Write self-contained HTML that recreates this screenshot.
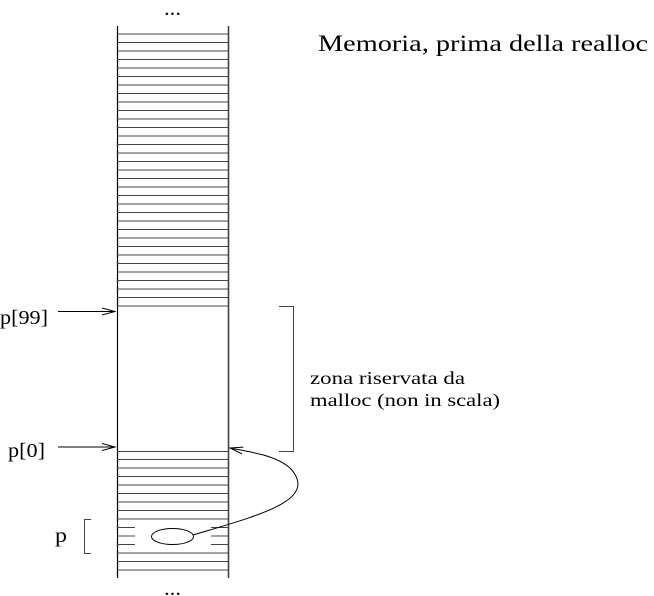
<!DOCTYPE html>
<html><head><meta charset="utf-8"><style>
html,body{margin:0;padding:0;background:#fff;}
svg{display:block;}
text{font-family:"Liberation Serif","Times New Roman",Times,serif;fill:#000;}
</style></head><body>
<svg width="654" height="596" viewBox="0 0 654 596" xmlns="http://www.w3.org/2000/svg">
<defs>
<marker id="ah" markerWidth="14" markerHeight="10" refX="13" refY="5" orient="auto" markerUnits="userSpaceOnUse">
<path d="M0,1.5 L13,5 L0,8.5" fill="none" stroke="#000" stroke-width="1"/>
</marker>
</defs>
<text x="164" y="15" font-size="20" textLength="17" lengthAdjust="spacingAndGlyphs">...</text>
<text x="164" y="595" font-size="20" textLength="17" lengthAdjust="spacingAndGlyphs">...</text>
<line x1="117.5" y1="26" x2="117.5" y2="578" stroke="#000" stroke-width="1.2"/>
<line x1="228.5" y1="26" x2="228.5" y2="578" stroke="#444" stroke-width="1.6"/>
<g stroke="#444" stroke-width="1">
<line x1="117" y1="34" x2="228" y2="34"/><line x1="117" y1="42.5" x2="228" y2="42.5"/><line x1="117" y1="51" x2="228" y2="51"/><line x1="117" y1="59.5" x2="228" y2="59.5"/><line x1="117" y1="68" x2="228" y2="68"/><line x1="117" y1="76.5" x2="228" y2="76.5"/><line x1="117" y1="85" x2="228" y2="85"/><line x1="117" y1="93.5" x2="228" y2="93.5"/><line x1="117" y1="102" x2="228" y2="102"/><line x1="117" y1="110.5" x2="228" y2="110.5"/><line x1="117" y1="119" x2="228" y2="119"/><line x1="117" y1="127.5" x2="228" y2="127.5"/><line x1="117" y1="136" x2="228" y2="136"/><line x1="117" y1="144.5" x2="228" y2="144.5"/><line x1="117" y1="153" x2="228" y2="153"/><line x1="117" y1="161.5" x2="228" y2="161.5"/><line x1="117" y1="170" x2="228" y2="170"/><line x1="117" y1="178.5" x2="228" y2="178.5"/><line x1="117" y1="187" x2="228" y2="187"/><line x1="117" y1="195.5" x2="228" y2="195.5"/><line x1="117" y1="204" x2="228" y2="204"/><line x1="117" y1="212.5" x2="228" y2="212.5"/><line x1="117" y1="221" x2="228" y2="221"/><line x1="117" y1="229.5" x2="228" y2="229.5"/><line x1="117" y1="238" x2="228" y2="238"/><line x1="117" y1="246.5" x2="228" y2="246.5"/><line x1="117" y1="255" x2="228" y2="255"/><line x1="117" y1="263.5" x2="228" y2="263.5"/><line x1="117" y1="272" x2="228" y2="272"/><line x1="117" y1="280.5" x2="228" y2="280.5"/><line x1="117" y1="289" x2="228" y2="289"/><line x1="117" y1="297.5" x2="228" y2="297.5"/><line x1="117" y1="306" x2="228" y2="306"/>
<line x1="117" y1="451.5" x2="228" y2="451.5"/><line x1="117" y1="459.5" x2="228" y2="459.5"/><line x1="117" y1="468" x2="228" y2="468"/><line x1="117" y1="476.5" x2="228" y2="476.5"/><line x1="117" y1="485" x2="228" y2="485"/><line x1="117" y1="493.5" x2="228" y2="493.5"/><line x1="117" y1="502" x2="228" y2="502"/><line x1="117" y1="510.5" x2="228" y2="510.5"/><line x1="117" y1="519" x2="228" y2="519"/>
<line x1="117" y1="527.5" x2="135" y2="527.5"/><line x1="211" y1="527.5" x2="228" y2="527.5"/>
<line x1="117" y1="536" x2="135" y2="536"/><line x1="211" y1="536" x2="228" y2="536"/>
<line x1="117" y1="544.5" x2="135" y2="544.5"/><line x1="211" y1="544.5" x2="228" y2="544.5"/>
<line x1="117" y1="553" x2="228" y2="553"/><line x1="117" y1="561.5" x2="228" y2="561.5"/><line x1="117" y1="570" x2="228" y2="570"/>
</g>
<text x="318" y="51" font-size="23" textLength="330" lengthAdjust="spacingAndGlyphs">Memoria, prima della realloc</text>
<text x="0" y="324" font-size="20" textLength="48" lengthAdjust="spacingAndGlyphs">p[99]</text>
<line x1="58" y1="311.5" x2="115" y2="311.5" stroke="#000" stroke-width="1" marker-end="url(#ah)"/>
<text x="8" y="457" font-size="20" textLength="37" lengthAdjust="spacingAndGlyphs">p[0]</text>
<line x1="58" y1="447" x2="115" y2="447" stroke="#000" stroke-width="1" marker-end="url(#ah)"/>
<path d="M279,306.5 H293.5 V451.5 H279" fill="none" stroke="#444" stroke-width="1"/>
<text x="310" y="384" font-size="18" textLength="155" lengthAdjust="spacingAndGlyphs">zona riservata da</text>
<text x="310" y="406" font-size="18" textLength="190" lengthAdjust="spacingAndGlyphs">malloc (non in scala)</text>
<text x="55" y="542" font-size="20" textLength="12" lengthAdjust="spacingAndGlyphs">p</text>
<path d="M91,519.5 H84.5 V553.5 H91" fill="none" stroke="#444" stroke-width="1"/>
<ellipse cx="172.5" cy="536.5" rx="21" ry="8" fill="none" stroke="#000" stroke-width="1"/>
<path d="M193,535 C260,515 320,500 290,468 C275,455 250,452 230,448" fill="none" stroke="#000" stroke-width="1" marker-end="url(#ah)"/>
</svg>
</body></html>
